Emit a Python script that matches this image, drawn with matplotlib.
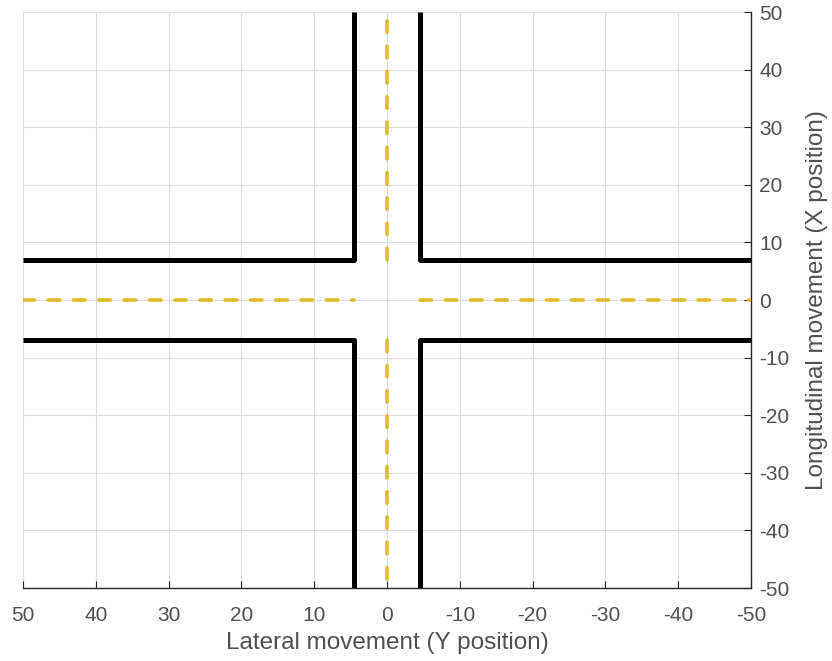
import matplotlib
matplotlib.use('Agg')
import numpy as np
from matplotlib import pyplot as plt

plt.rcParams['font.family'] = ['Liberation Sans', 'DejaVu Sans']
plt.rcParams['axes.unicode_minus'] = False

# road geometry (half widths of the two roads) and plot extent
lim = 50
half_w_ns = 4.5   # north-south road, across lateral axis
half_w_ew = 7     # east-west road, across longitudinal axis
ticks = [-50, -40, -30, -20, -10, 0, 10, 20, 30, 40, 50]

# road edges: one L-shaped curb per quadrant
curbs = [
    ([lim, half_w_ns, half_w_ns], [half_w_ew, half_w_ew, lim]),
    ([-lim, -half_w_ns, -half_w_ns], [half_w_ew, half_w_ew, lim]),
    ([lim, half_w_ns, half_w_ns], [-half_w_ew, -half_w_ew, -lim]),
    ([-lim, -half_w_ns, -half_w_ns], [-half_w_ew, -half_w_ew, -lim]),
]
# centre lines, broken inside the junction
centres = [
    ([lim, half_w_ns], [0, 0]),
    ([-half_w_ns, -lim], [0, 0]),
    ([0, 0], [half_w_ew, lim]),
    ([0, 0], [-half_w_ew, -lim]),
]

fig = plt.figure(figsize=(8.32, 6.61), dpi=100)
ax = fig.add_axes([0.0276, 0.1104, 0.875, 0.8714])

for xs, ys in curbs:
    ax.plot(xs, ys, color='black', lw=3.6, solid_joinstyle='round',
            solid_capstyle='butt', zorder=3)
for xs, ys in centres:
    ax.plot(xs, ys, color='#E2BA26', lw=2.6, dashes=(3.2, 3.8),
            dash_capstyle='round', zorder=3)

ax.set_xlim(lim, -lim)
ax.set_ylim(-lim, lim)
ax.set_xticks(ticks)
ax.set_yticks(ticks)
ax.yaxis.tick_right()
ax.yaxis.set_label_position('right')
ax.spines['top'].set_visible(False)
ax.spines['left'].set_visible(False)
for s in ('bottom', 'right'):
    ax.spines[s].set_linewidth(1.0)
    ax.spines[s].set_color('#262626')
ax.tick_params(direction='in', length=5, width=0.8, colors='#262626',
               labelcolor='#505050', labelsize=15)
ax.tick_params(axis='x', pad=13)
ax.tick_params(axis='y', pad=6)
ax.grid(True, color='#dcdcdc', lw=0.8)
ax.set_axisbelow(True)

ax.set_xlabel('Lateral movement (Y position)', fontsize=17.5, color='#505050', labelpad=5)
ax.set_ylabel('Longitudinal movement (X position)', fontsize=17.5, color='#505050', labelpad=12)

fig.savefig('out.png', dpi=100)
